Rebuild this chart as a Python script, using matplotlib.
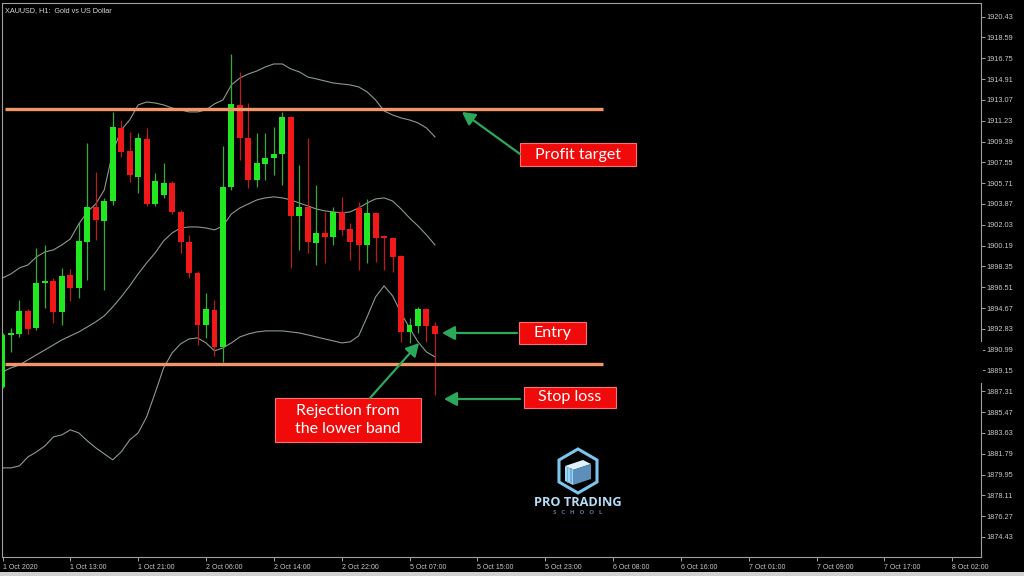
import matplotlib
matplotlib.use('Agg')
import matplotlib.pyplot as plt
from matplotlib.patches import Rectangle, Polygon, FancyArrowPatch

# ---------------- data ----------------
opens = [1887.70, 1892.30, 1892.38, 1894.42, 1892.91, 1896.89, 1897.07, 1894.33, 1897.60, 1896.45,
         1900.52, 1903.61, 1902.37, 1904.14, 1910.59, 1908.56, 1906.26, 1909.62, 1903.88, 1904.67,
         1905.73, 1903.17, 1900.52, 1897.77, 1893.18, 1894.50, 1891.23, 1905.38, 1912.63, 1909.71,
         1906.00, 1907.41, 1907.94, 1908.30, 1911.57, 1902.81, 1903.61, 1900.43, 1901.31, 1900.96,
         1903.17, 1901.67, 1903.52, 1900.25, 1903.08, 1901.05, 1900.87, 1899.28, 1892.56, 1893.09,
         1894.59, 1893.09]
highs = [1892.47, 1892.91, 1895.39, 1894.59, 1899.99, 1900.25, 1897.33, 1898.22, 1898.13, 1902.28,
         1909.27, 1906.70, 1904.41, 1912.01, 1911.30, 1910.24, 1910.15, 1910.59, 1906.62, 1907.50,
         1905.91, 1903.35, 1901.13, 1897.95, 1896.01, 1895.39, 1909.00, 1917.13, 1915.54, 1912.80,
         1910.15, 1910.15, 1910.68, 1912.01, 1911.66, 1907.32, 1909.71, 1905.55, 1903.17, 1903.61,
         1904.50, 1902.20, 1904.05, 1904.32, 1903.17, 1901.13, 1900.96, 1899.37, 1893.80, 1894.77,
         1894.68, 1893.44]
lows = [1887.61, 1890.79, 1892.12, 1892.38, 1892.74, 1894.68, 1893.36, 1893.18, 1895.30, 1895.57,
        1897.16, 1900.69, 1896.27, 1903.79, 1908.03, 1905.82, 1904.85, 1903.70, 1903.70, 1904.41,
        1903.00, 1899.54, 1897.33, 1891.41, 1892.03, 1890.44, 1889.91, 1905.11, 1907.77, 1905.29,
        1905.38, 1906.00, 1906.44, 1905.55, 1898.22, 1899.81, 1899.54, 1898.48, 1898.66, 1900.25,
        1901.13, 1898.93, 1898.04, 1898.66, 1898.75, 1898.04, 1897.86, 1891.67, 1891.59, 1892.47,
        1891.67, 1886.99]
closes = [1892.30, 1892.47, 1894.42, 1892.82, 1896.89, 1897.07, 1894.33, 1897.51, 1896.45, 1900.60,
          1903.61, 1902.46, 1904.14, 1910.68, 1908.47, 1906.44, 1909.71, 1903.88, 1905.91, 1905.73,
          1903.17, 1900.52, 1897.77, 1893.18, 1894.59, 1891.23, 1905.38, 1912.72, 1909.71, 1906.00,
          1907.50, 1907.94, 1908.30, 1911.57, 1902.81, 1903.61, 1900.52, 1901.31, 1900.96, 1903.17,
          1901.58, 1900.52, 1900.25, 1903.08, 1900.87, 1900.87, 1899.19, 1892.56, 1893.18, 1894.59,
          1893.09, 1892.38]

upper_band = [1897.33, 1897.69, 1898.22, 1898.48, 1899.19, 1899.63, 1899.81, 1900.25, 1900.78, 1902.11,
              1903.17, 1903.88, 1905.11, 1908.47, 1910.42, 1911.30, 1912.63, 1912.89, 1912.80, 1912.63,
              1912.36, 1912.19, 1912.01, 1912.01, 1912.19, 1912.72, 1913.07, 1914.40, 1915.01, 1915.37,
              1915.63, 1915.99, 1916.25, 1916.25, 1915.81, 1915.55, 1915.10, 1914.93, 1914.75, 1914.57,
              1914.48, 1914.40, 1914.22, 1913.78, 1913.07, 1912.10, 1911.74, 1911.48, 1911.30, 1911.04,
              1910.59, 1909.80]
middle_band = [1889.03, 1889.38, 1889.64, 1890.09, 1890.53, 1890.97, 1891.41, 1891.85, 1892.21, 1892.56,
               1893.00, 1893.45, 1893.98, 1894.77, 1895.66, 1896.63, 1897.69, 1898.66, 1899.54, 1900.61,
               1901.31, 1901.75, 1901.84, 1901.84, 1901.75, 1901.58, 1901.93, 1902.99, 1903.52, 1903.88,
               1904.23, 1904.41, 1904.50, 1904.41, 1904.23, 1903.96, 1903.70, 1903.43, 1903.26, 1903.17,
               1903.08, 1903.17, 1903.52, 1903.96, 1904.32, 1904.41, 1904.14, 1903.43, 1902.64, 1901.93,
               1901.14, 1900.25]
lower_band = [1880.54, 1880.54, 1880.72, 1881.51, 1881.95, 1882.48, 1883.28, 1883.46, 1883.90, 1883.63,
              1882.93, 1882.31, 1881.78, 1881.25, 1881.95, 1883.01, 1883.63, 1885.05, 1887.17, 1889.38,
              1890.70, 1891.50, 1891.94, 1892.03, 1891.59, 1890.88, 1891.15, 1891.59, 1892.12, 1892.38,
              1892.56, 1892.65, 1892.65, 1892.65, 1892.56, 1892.47, 1892.30, 1892.12, 1891.94, 1891.77,
              1891.59, 1891.68, 1892.21, 1893.89, 1895.66, 1896.63, 1895.75, 1894.24, 1892.91, 1891.68,
              1890.79, 1890.35]

profit_target_level = 1912.27
support_level = 1889.73

y_tick_values = [1920.43, 1918.59, 1916.75, 1914.91, 1913.07, 1911.23, 1909.39, 1907.55, 1905.71,
                 1903.87, 1902.03, 1900.19, 1898.35, 1896.51, 1894.67, 1892.83, 1890.99, 1889.15,
                 1887.31, 1885.47, 1883.63, 1881.79, 1879.95, 1878.11, 1876.27, 1874.43]
x_tick_labels = ['1 Oct 2020', '1 Oct 13:00', '1 Oct 21:00', '2 Oct 06:00', '2 Oct 14:00',
                 '2 Oct 22:00', '5 Oct 07:00', '5 Oct 15:00', '5 Oct 23:00', '6 Oct 08:00',
                 '6 Oct 16:00', '7 Oct 01:00', '7 Oct 09:00', '7 Oct 17:00', '8 Oct 02:00']
bars_per_label = 8

# ---------------- figure ----------------
W, H = 1024, 576
fig = plt.figure(figsize=(W / 100, H / 100), dpi=100, facecolor='black')

def fx(px):
    return px / W

def fy(py):
    return 1 - py / H

ax = fig.add_axes([fx(2), fy(557), fx(981) - fx(2), fy(3) - fy(557)])
ax.set_facecolor('black')

GREEN = '#22e822'
RED = '#f01818'
GREEN_WICK = '#3aa83a'
RED_WICK = '#b81c1c'
n = len(opens)
xs = list(range(n))

for i in xs:
    o, h, l, c = opens[i], highs[i], lows[i], closes[i]
    up = c >= o
    col = GREEN if up else RED
    ax.vlines(i, l, h, color=GREEN_WICK if up else RED_WICK, lw=0.9, zorder=3)
    body = max(abs(c - o), 0.12)
    ax.bar(i, body, bottom=min(o, c), width=0.7, color=col, edgecolor=col, lw=0, zorder=4)

band_col = '#8c9a8c'
ax.plot(xs, upper_band, color=band_col, lw=0.8, zorder=2)
ax.plot(xs, middle_band, color=band_col, lw=0.8, zorder=2)
ax.plot(xs, lower_band, color=band_col, lw=0.8, zorder=2)

line_col = '#f2956a'
ax.hlines([profit_target_level, support_level], 0.3, 70.8, color=line_col, lw=2.4, zorder=5)

ax.set_xlim(-0.06, 115.4)
ax.set_ylim(1872.66, 1921.64)

ax.yaxis.tick_right()
ax.set_yticks(y_tick_values)
ax.set_yticklabels([f'{v:.2f}' for v in y_tick_values])
ax.set_xticks([k * bars_per_label for k in range(len(x_tick_labels))])
ax.set_xticklabels(x_tick_labels, ha='left')

lab_col = '#c8c8c8'
ax.tick_params(axis='y', colors='#a0a0a0', labelcolor=lab_col, labelsize=5.3, length=3,
               width=0.7, pad=1, labelfontfamily='Liberation Sans')
ax.tick_params(axis='x', colors='#a0a0a0', labelcolor=lab_col, labelsize=5.0, length=3,
               width=0.7, pad=2, labelfontfamily='Liberation Sans')
for sp in ax.spines.values():
    sp.set_color('#a0a0a0')
    sp.set_linewidth(0.8)

ax.text(0.003, 0.992, 'XAUUSD, H1:  Gold vs US Dollar', transform=ax.transAxes, ha='left', va='top',
        color='#d8d8d8', fontsize=5.2, family='Liberation Sans')

# gap in the right axis line (price label area)
fig.add_artist(Rectangle((fx(979.5), fy(383)), fx(3.5), fy(342) - fy(383), fc='black', ec='none',
                         transform=fig.transFigure, zorder=10))
# light strip at the bottom of the screenshot
fig.add_artist(Rectangle((0, 0), 1, fy(572), fc='#d0d0d0', ec='none', transform=fig.transFigure, zorder=10))

# ---------------- annotations ----------------
ARROW = '#2ba85a'
BOX = '#f00a0a'

def box(x0, y0, x1, y1, text):
    fig.add_artist(Rectangle((fx(x0), fy(y1)), fx(x1) - fx(x0), fy(y0) - fy(y1), fc=BOX,
                             ec='#ff7070', lw=0.8, transform=fig.transFigure, zorder=12))
    fig.text(fx((x0 + x1) / 2), fy((y0 + y1) / 2), text, ha='center', va='center', color='white',
             fontsize=11.5, family='Lato', zorder=13, linespacing=1.3)

def arrow(x0, y0, x1, y1):
    fig.add_artist(FancyArrowPatch((fx(x0), fy(y0)), (fx(x1), fy(y1)), transform=fig.transFigure,
                                   arrowstyle='-|>,head_length=0.55,head_width=0.3', mutation_scale=14,
                                   color=ARROW, lw=1.6, zorder=12, shrinkA=0, shrinkB=0))

box(520, 143, 636, 166, 'Profit target')
arrow(520, 154, 462, 112)
box(519, 322, 586, 344, 'Entry')
arrow(517, 333, 442, 333)
box(524, 387, 616, 408, 'Stop loss')
arrow(520, 399, 444, 399)
box(275, 398, 421, 442, 'Rejection from\nthe lower band')
arrow(370, 398, 419, 343)

# ---------------- logo ----------------
hex_pts = [(578, 449), (597, 460), (597, 482), (578, 493), (559, 482), (559, 460)]
fig.add_artist(Polygon([(fx(a), fy(b)) for a, b in hex_pts], closed=True, fc='none', ec='#7cc6ee',
                       lw=2.2, transform=fig.transFigure, zorder=12))
top_face = [(565, 466), (583, 460), (591, 464), (573, 470)]
front_face = [(565, 466), (573, 470), (573, 485), (565, 481)]
right_face = [(573, 470), (591, 464), (591, 479), (573, 485)]
for pts, col in [(top_face, '#dff2fc'), (front_face, '#9dd3f2'), (right_face, '#5c90ba')]:
    fig.add_artist(Polygon([(fx(a), fy(b)) for a, b in pts], closed=True, fc=col, ec='none',
                           transform=fig.transFigure, zorder=13))
for sx in [567, 569.5, 571]:
    fig.add_artist(plt.Line2D([fx(sx), fx(sx)], [fy(468), fy(482)], color='#6aa8d4', lw=0.6,
                              transform=fig.transFigure, zorder=14))
fig.text(fx(578), fy(502), 'PRO TRADING', ha='center', va='center', color='#b4def6', fontsize=9.2,
         family='Open Sans', weight='bold', zorder=13)
fig.text(fx(578), fy(512), 'S   C   H   O   O   L', ha='center', va='center', color='#5a7690', fontsize=4.4,
         family='Open Sans', weight='bold', zorder=13)

fig.savefig('out.png', dpi=100, facecolor='black')
